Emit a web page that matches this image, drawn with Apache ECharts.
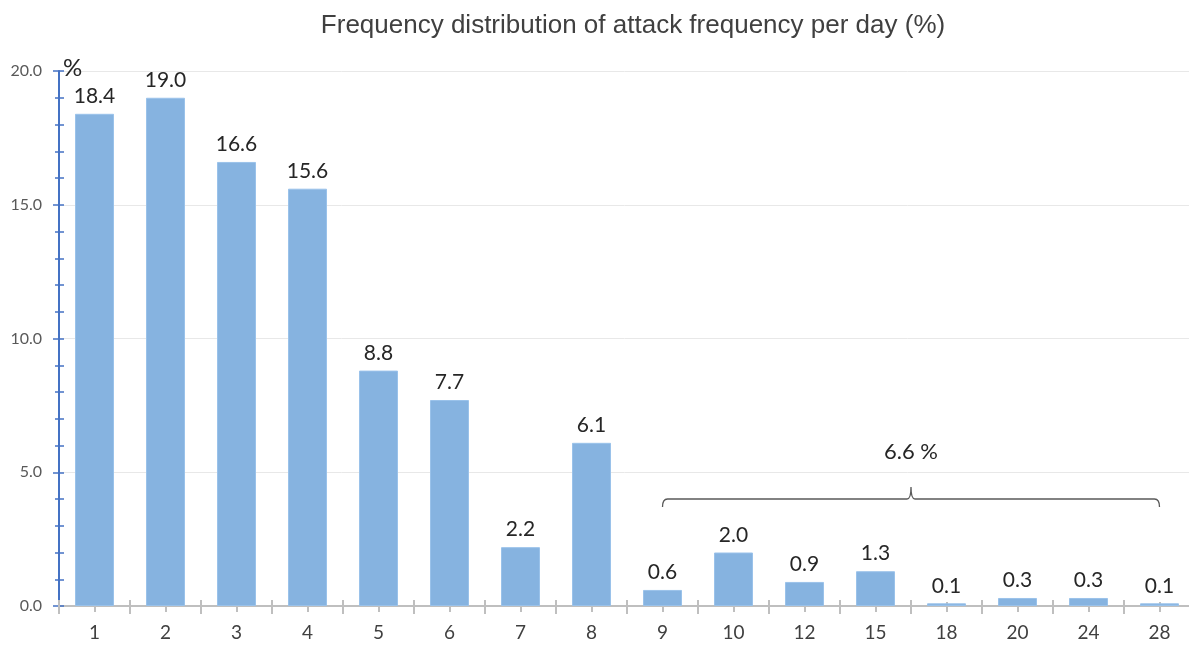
<!DOCTYPE html>
<html>
<head>
<meta charset="utf-8">
<script src="https://cdn.jsdelivr.net/npm/echarts@6/dist/echarts.min.js"></script>
<style>
  html, body { margin: 0; padding: 0; background: #fff; }
  #main { width: 1189px; height: 648px; }
</style>
</head>
<body>
<div id="main"></div>
<script>
  // categories = attacks per day, values = share of days (%)
  var categories = ['1', '2', '3', '4', '5', '6', '7', '8', '9', '10', '12', '15', '18', '20', '24', '28'];
  var percents = [18.4, 19.0, 16.6, 15.6, 8.8, 7.7, 2.2, 6.1, 0.6, 2.0, 0.9, 1.3, 0.1, 0.3, 0.3, 0.1];

  // brace over the tail group
  var braceFrom = '9';
  var braceTo = '28';
  var braceLevel = 4.0;
  var braceText = '6.6 %';
  var braceTextLevel = 5.75;

  var chart = echarts.init(document.getElementById('main'));

  var labelFont = 'Lato, "Open Sans", sans-serif';

  function yAx(extra) {
    var base = {
      type: 'value',
      position: 'left',
      min: 0,
      max: 20,
      interval: 5,
      axisLine: { show: false },
      axisTick: { show: false },
      axisLabel: { show: false },
      splitLine: { show: false }
    };
    return Object.assign(base, extra);
  }

  function xAx(extra) {
    var base = {
      type: 'category',
      position: 'bottom',
      data: categories,
      axisLine: { show: false },
      axisTick: { show: false },
      axisLabel: { show: false },
      splitLine: { show: false }
    };
    return Object.assign(base, extra);
  }

  var option = {
    backgroundColor: '#ffffff',
    animation: false,
    title: {
      text: 'Frequency distribution of attack frequency per day (%)',
      left: 628,
      top: 8,
      textAlign: 'center',
      textStyle: {
        fontFamily: '"Liberation Sans", Arial, sans-serif',
        fontSize: 26,
        fontWeight: 'normal',
        color: '#404040'
      }
    },
    // the plot runs a little past the right edge of the picture
    grid: { left: 59, top: 71, bottom: 42, width: 1136, outerBoundsMode: 'none' },
    xAxis: [
      xAx({
        axisLine: { show: true, lineStyle: { color: '#bfbfbf', width: 2 } },
        axisLabel: {
          show: true, interval: 0, margin: 17,
          fontFamily: labelFont, fontSize: 19, color: '#404040'
        }
      }),
      // boundary ticks, crossing the axis line
      xAx({
        offset: -6,
        axisTick: { show: true, length: 14, interval: 0, lineStyle: { color: '#bfbfbf', width: 2 } }
      }),
      // ticks under each bar
      xAx({
        offset: -4,
        axisTick: { show: true, length: 10, interval: 0, alignWithLabel: true, lineStyle: { color: '#bfbfbf', width: 2 } }
      })
    ],
    yAxis: [
      yAx({
        name: '%',
        nameLocation: 'end',
        nameGap: -9,
        nameTextStyle: {
          align: 'left', verticalAlign: 'bottom', padding: [0, 0, 0, 4],
          fontFamily: labelFont, fontSize: 24, color: '#262626'
        },
        axisLine: { show: true, lineStyle: { color: '#4472c4', width: 2 } },
        axisLabel: {
          show: true, margin: 17,
          fontFamily: labelFont, fontSize: 16, color: '#595959',
          formatter: function (v) { return v.toFixed(1); }
        },
        splitLine: { show: true, lineStyle: { color: '#e8e8e8', width: 1 } }
      }),
      // ticks crossing the blue line
      yAx({
        offset: -5,
        axisTick: { show: true, length: 11, lineStyle: { color: '#4472c4', width: 1.5 } },
        minorTick: { show: true, splitNumber: 5, length: 9, lineStyle: { color: '#4472c4', width: 1.5 } }
      })
    ],
    series: [
      {
        type: 'bar',
        xAxisIndex: 0,
        yAxisIndex: 0,
        data: percents,
        barWidth: 39,
        itemStyle: { color: '#86b3e0', borderColor: '#9ac2ea', borderWidth: 1 },
        label: {
          show: true,
          position: 'top',
          distance: 7,
          fontFamily: labelFont,
          fontSize: 21,
          color: '#262626',
          formatter: function (p) { return p.value.toFixed(1); }
        }
      },
      {
        type: 'custom',
        xAxisIndex: 0,
        yAxisIndex: 0,
        silent: true,
        data: [[categories.indexOf(braceFrom), categories.indexOf(braceTo), braceLevel, braceTextLevel]],
        renderItem: function (params, api) {
          var a = api.coord([api.value(0), api.value(2)]);
          var b = api.coord([api.value(1), api.value(2)]);
          var t = api.coord([api.value(1), api.value(3)]);
          var x1 = a[0], x2 = b[0], y = a[1];
          var xm = (x1 + x2) / 2;
          var d = 'M' + x1 + ' ' + (y + 8) +
            ' Q' + x1 + ' ' + y + ' ' + (x1 + 5) + ' ' + y +
            ' L' + (xm - 4) + ' ' + y +
            ' Q' + xm + ' ' + y + ' ' + xm + ' ' + (y - 12) +
            ' Q' + xm + ' ' + y + ' ' + (xm + 4) + ' ' + y +
            ' L' + (x2 - 5) + ' ' + y +
            ' Q' + x2 + ' ' + y + ' ' + x2 + ' ' + (y + 8);
          return {
            type: 'group',
            children: [
              {
                type: 'path',
                shape: { pathData: d },
                style: { fill: null, stroke: '#595959', lineWidth: 1.3 }
              },
              {
                type: 'text',
                style: {
                  x: xm, y: t[1],
                  text: braceText,
                  align: 'center', verticalAlign: 'middle',
                  font: '22px Lato, "Open Sans", sans-serif',
                  fill: '#262626'
                }
              }
            ]
          };
        }
      }
    ]
  };

  chart.setOption(option);
</script>
</body>
</html>
